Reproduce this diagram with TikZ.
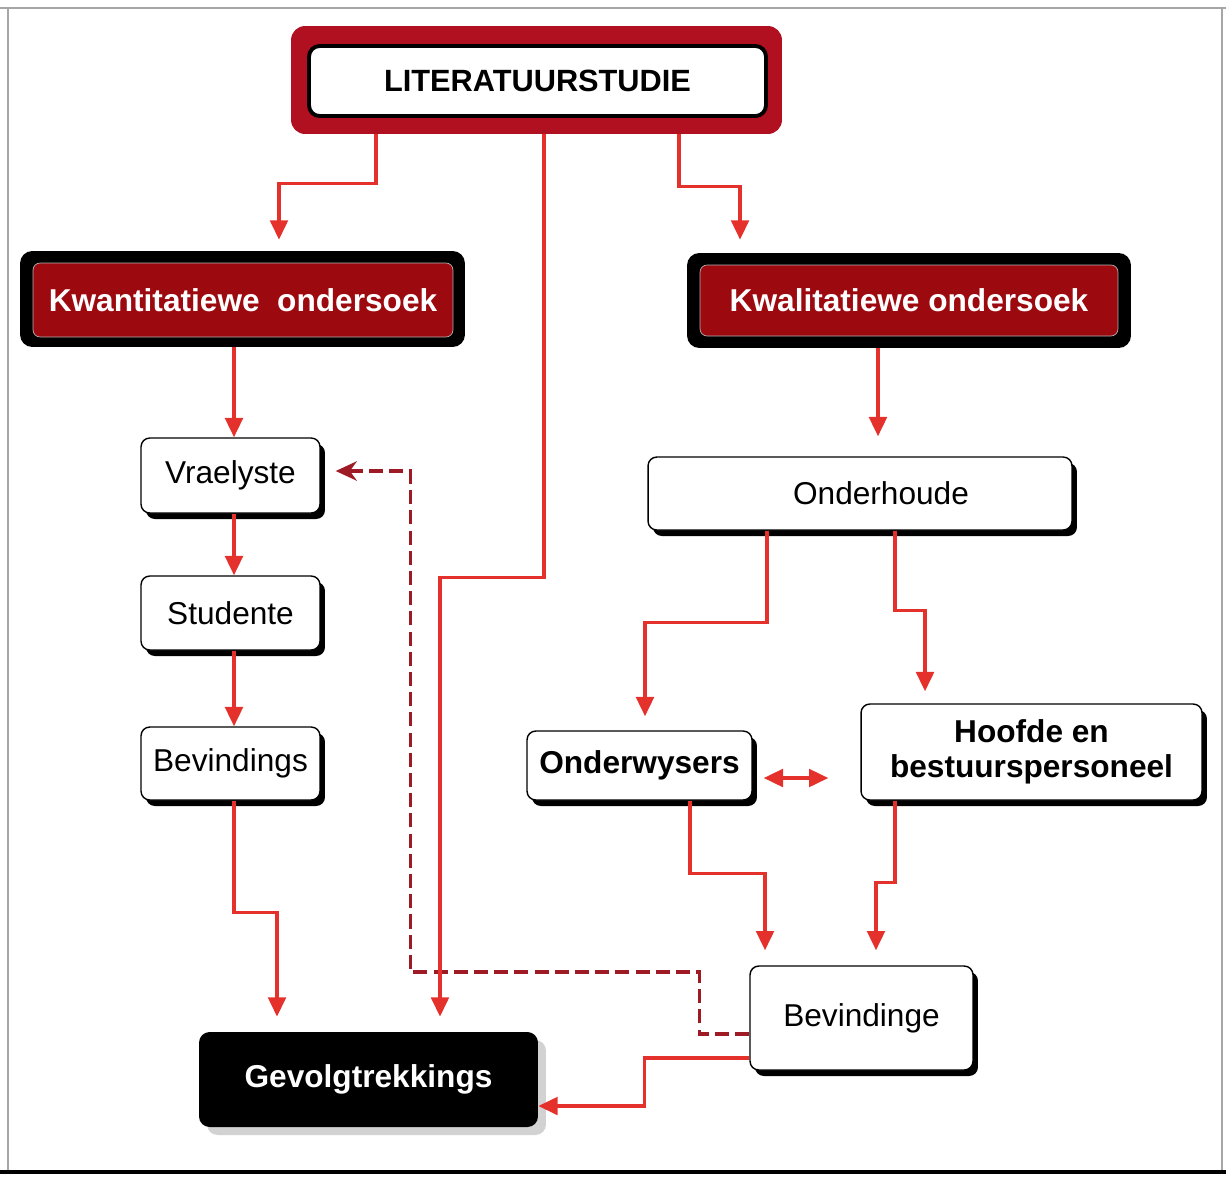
\documentclass[tikz,border=0pt]{standalone}
\usepackage{fontspec}
\setmainfont{Liberation Sans}
\usetikzlibrary{arrows.meta,shadows}
\definecolor{titlered}{HTML}{B01020}
\definecolor{boxred}{HTML}{9C0A10}
\definecolor{flowred}{HTML}{E5312B}
\definecolor{dashred}{HTML}{9E1B26}

\tikzset{
  labelfont/.style={font=\fontsize{18}{20}\selectfont},
  boldfont/.style={font=\bfseries\fontsize{18}{20}\selectfont},
  headframe/.style={fill=black, rounded corners=7pt, inner sep=0pt},
  headbox/.style={fill=boxred, draw=gray!60, line width=0.4pt, rounded corners=4pt,
    text=white, boldfont, inner sep=0pt},
  itembox/.style={fill=white, draw=black, line width=0.8pt, rounded corners=5pt,
    inner sep=0pt, labelfont,
    drop shadow={shadow xshift=0.1cm, shadow yshift=-0.12cm, fill=black, opacity=1}},
  flow/.style={draw=flowred, line width=2pt, -{Triangle[length=11pt,width=10pt]}},
  feedback/.style={draw=dashred, line width=2pt, dash pattern=on 8pt off 3.5pt,
    -{Stealth[length=12pt,width=11pt]}}
}

\begin{document}
\begin{tikzpicture}[x=0.02cm, y=-0.02cm]
  \useasboundingbox (0,0) rectangle (1226,1177);

  % raam
  \draw[gray!70, line width=0.6pt] (0,8) -- (1226,8);
  \draw[gray!70, line width=0.6pt] (8,8) -- (8,1172);
  \draw[gray!70, line width=0.6pt] (1222,8) -- (1222,1172);
  \draw[black, line width=2.5pt] (0,1172) -- (1226,1172);

  % titel
  \node[fill=titlered, rounded corners=8pt, minimum width=9.82cm, minimum height=2.16cm]
    (frame) at (536.5,80) {};
  \node[fill=white, draw=black, line width=2.2pt, rounded corners=6pt, inner sep=0pt,
    minimum width=9.14cm, minimum height=1.4cm, font=\bfseries\fontsize{17.5}{20}\selectfont]
    (lit) at (537.5,81) {LITERATUURSTUDIE};

  % twee ondersoeke
  \node[headframe, minimum width=8.9cm, minimum height=1.92cm] (ktframe) at (242.5,299) {};
  \node[headbox, minimum width=8.4cm, minimum height=1.48cm] (kt) at (243,300)
    {Kwantitatiewe\ \ ondersoek};
  \node[headframe, minimum width=8.88cm, minimum height=1.9cm] (klframe) at (909,300.5) {};
  \node[headbox, minimum width=8.36cm, minimum height=1.42cm] (kl) at (909,300.5)
    {Kwalitatiewe ondersoek};

  % linkerkant
  \node[itembox, minimum width=3.58cm, minimum height=1.5cm] (vrae) at (230.5,475.5) {Vraelyste};
  \node[itembox, minimum width=3.58cm, minimum height=1.48cm] (stud) at (230.5,613) {Studente};
  \node[itembox, minimum width=3.58cm, minimum height=1.46cm] (bevs) at (230.5,763.5) {Bevindings};

  % regterkant
  \node[itembox, minimum width=8.48cm, minimum height=1.46cm] (onder) at (860,493.5)
    {\hspace*{0.84cm}Onderhoude};
  \node[itembox, boldfont, minimum width=4.5cm, minimum height=1.38cm] (onderw) at (639.5,765.5)
    {Onderwysers};
  \node[itembox, boldfont, align=center, minimum width=6.82cm, minimum height=1.92cm]
    (hoof) at (1031.5,752) {Hoofde en\\bestuurspersoneel};
  \node[itembox, minimum width=4.46cm, minimum height=2.08cm] (bevg) at (861.5,1018) {Bevindinge};

  % gevolgtrekkings
  \node[fill=black, rounded corners=6pt, text=white, boldfont, inner sep=0pt,
    minimum width=6.78cm, minimum height=1.9cm,
    drop shadow={shadow xshift=0.16cm, shadow yshift=-0.16cm, fill=gray!35, opacity=1}]
    (gevolg) at (368.5,1079.5) {Gevolgtrekkings};

  % terugvoer
  \draw[feedback, shorten >=0.3cm] ([yshift=-0.32cm]bevg.west) -- ++(-50,0) -- ++(0,-62)
    -- ++(-289,0) |- ([yshift=0.09cm]vrae.east);

  % pyle vanaf die titel
  \draw[flow, shorten >=0.22cm] ([xshift=-3.21cm]frame.south) -- ++(0,49)
    -| ([xshift=0.73cm]ktframe.north);
  \draw[flow, shorten >=0.26cm] ([xshift=2.85cm]frame.south) -- ++(0,52)
    -| ([xshift=-3.38cm]klframe.north);
  \draw[flow, shorten >=0.3cm] ([xshift=0.15cm]frame.south) -- ++(0,443)
    -| ([xshift=1.43cm]gevolg.north);

  % linkerkant
  \draw[flow] ([xshift=0.07cm]vrae.north |- ktframe.south) -- ([xshift=0.07cm]vrae.north);
  \draw[flow] ([xshift=0.07cm]vrae.south) -- ([xshift=0.07cm]stud.north);
  \draw[flow] ([xshift=0.07cm]stud.south) -- ([xshift=0.07cm]bevs.north);
  \draw[flow, shorten >=0.3cm] ([xshift=0.07cm]bevs.south) -- ++(0,112)
    -| ([xshift=-1.83cm]gevolg.north);

  % regterkant
  \draw[flow, shorten >=0.4cm] ([xshift=0.36cm]onder.north |- klframe.south)
    -- ([xshift=0.36cm]onder.north);
  \draw[flow, shorten >=0.28cm] ([xshift=-1.86cm]onder.south) -- ++(0,92)
    -| ([xshift=0.11cm]onderw.north);
  \draw[flow, shorten >=0.24cm] ([xshift=0.7cm]onder.south) -- ++(0,80)
    -| ([xshift=-2.13cm]hoof.north);
  \draw[flow, {Triangle[length=11pt,width=10pt]}-{Triangle[length=11pt,width=10pt]},
    shorten <=0.22cm, shorten >=0.64cm]
    ([yshift=-0.25cm]onderw.east) -- ([yshift=-0.25cm]onderw.east -| hoof.west);
  \draw[flow, shorten >=0.3cm] ([xshift=1.01cm]onderw.south) -- ++(0,73)
    -| ([xshift=-1.93cm]bevg.north);
  \draw[flow, shorten >=0.3cm] ([xshift=-2.73cm]hoof.south) -- ++(0,82)
    -| ([xshift=0.29cm]bevg.north);
  \draw[flow] ([yshift=-0.8cm]bevg.west) -- ++(-105,0) |- ([yshift=-0.53cm]gevolg.east);
\end{tikzpicture}
\end{document}
